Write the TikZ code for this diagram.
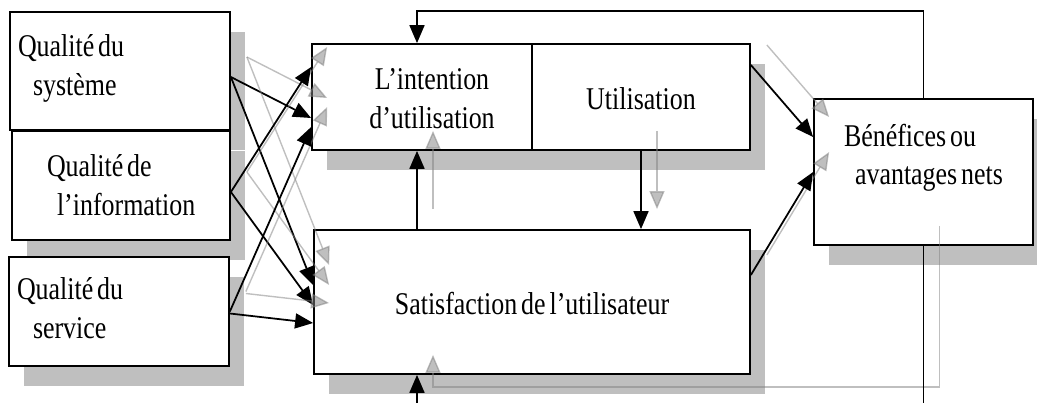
\documentclass[tikz,border=0pt]{standalone}
\usepackage{fontspec}
\setmainfont{Liberation Serif}[FakeStretch=0.82, WordSpace=0.6]
\usepackage{tikz}
\usetikzlibrary{arrows.meta,shadows}
\definecolor{ombre}{RGB}{191,191,191}
\newcommand{\boxshadow}{ombre}
\newcommand{\linethick}{1pt}
\newcommand{\textsize}{\fontsize{18}{22}\selectfont}

\tikzset{
  bloc/.style={draw, fill=white, line width=\linethick, inner sep=0pt, font=\textsize,
    drop shadow={shadow xshift=0.30cm, shadow yshift=-0.40cm, fill=\boxshadow, opacity=1}},
  lien/.style={line width=\linethick, -{Triangle[length=0.36cm,width=0.30cm]}},
  lienombre/.style={lien, preaction={draw=black!50, opacity=0.5, line width=0.8pt,
    transform canvas={shift={(0.32,0.40)}}}}
}

\begin{document}
\begin{tikzpicture}
\useasboundingbox (0,0) rectangle (20.74,-8.06);
%1 2 3
\node[bloc] (1) at (2.40, -1.42) [minimum width=4.40cm, minimum height=2.36cm, text width=4.08cm, align=flush left, text height=0pt, text depth=0.56cm] {Qualité du\\\hspace*{0.30cm}système};
\node[bloc] (2) at (2.42, -3.71) [minimum width=4.36cm, minimum height=2.18cm, text width=4.08cm, align=flush left, text height=0pt, text depth=0.34cm] {\hspace*{0.56cm}Qualité de\\\hspace*{0.76cm}l’information};
\node[bloc] (3) at (2.38, -6.23) [minimum width=4.40cm, minimum height=2.18cm, text width=4.08cm, align=flush left, text height=0pt, text depth=0.46cm] {Qualité du\\\hspace*{0.32cm}service};
%4 5
\node[bloc] (4) at (8.44, -1.94) [minimum width=4.40cm, minimum height=2.12cm, text width=4.00cm, align=flush center, text height=0pt, text depth=0.28cm] {\hspace*{0.40cm}L’intention\\\hspace*{0.40cm}d’utilisation};
\node[bloc] (5) at (12.82, -1.94) [minimum width=4.36cm, minimum height=2.12cm, text height=0.52cm, text depth=0pt] {Utilisation};
%6 7
\node[bloc] (6) at (10.64, -6.04) [minimum width=8.72cm, minimum height=2.88cm, text height=0.52cm, text depth=0pt] {Satisfaction de l’utilisateur};
\node[bloc] (7) at (18.47, -3.44) [minimum width=4.38cm, minimum height=2.92cm, align=left, text height=0.52cm, text depth=0pt] {Bénéfices ou\\\hspace*{0.22cm}avantages nets};
\coordinate (haut) at (8.34, -0.22);
\coordinate (bas) at (8.34, -8.14);
%1 2 3 -> 4 6
\draw[lienombre] ([yshift=-0.12cm]1.east) -- ([yshift=-0.42cm]4.west);
\draw[lienombre] ([yshift=-0.12cm]1.east) -- ([yshift=0.34cm]6.west);
\draw[lienombre] ([yshift=-0.13cm]2.east) -- ([yshift=0.60cm]4.west);
\draw[lienombre] ([yshift=-0.13cm]2.east) -- ([yshift=-0.06cm]6.west);
\draw[lienombre] (3.east) -- ([yshift=-0.60cm]4.west);
\draw[lienombre] ([yshift=-0.04cm]3.east) -- ([yshift=-0.42cm]6.west);
%4 5 6 -> 7
\draw[lienombre] ([yshift=0.64cm]5.east) -- ([yshift=0.70cm]7.west);
\draw[lienombre] ([yshift=0.54cm]6.east) -- (7.west);
%6 <-> 4 5
\draw[lienombre] ([xshift=-0.1cm]4.south |- 6.north) -- ([xshift=-0.1cm]4.south);
\draw[lienombre] (5.south) -- (5.south |- 6.north);
%7 -> 4 6
\draw[lien] (7.north) |- (haut) -- ([xshift=-0.1cm]4.north);
\draw[lienombre] (7.south) |- (bas) -- (bas |- 6.south);
\end{tikzpicture}
\end{document}
